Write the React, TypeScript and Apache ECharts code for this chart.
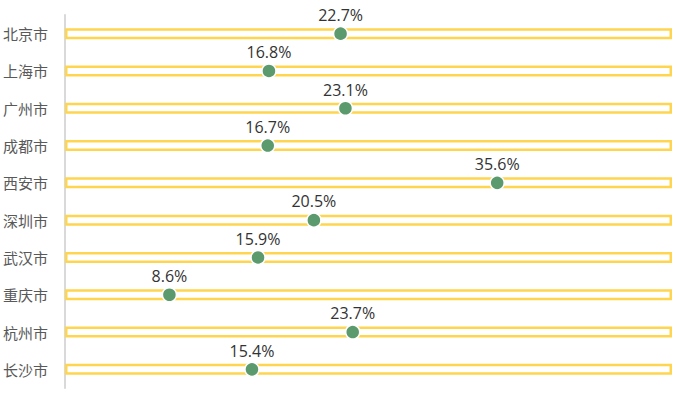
import React, { useEffect, useRef } from "react";
import * as echarts from "echarts";

const cities = ["北京市", "上海市", "广州市", "成都市", "西安市", "深圳市", "武汉市", "重庆市", "杭州市", "长沙市"];
const values = [22.7, 16.8, 23.1, 16.7, 35.6, 20.5, 15.9, 8.6, 23.7, 15.4];
const maxValue = 50;
const backValues = cities.map(() => maxValue);

export default function App() {
  const ref = useRef<HTMLDivElement>(null);
  useEffect(() => {
    const chart = echarts.init(ref.current!, null, { renderer: "svg" });
    chart.setOption({
      animation: false,
      grid: { left: 64, right: 12, top: 15, bottom: 8, containLabel: false },
      xAxis: { type: "value", min: 0, max: maxValue, show: false },
      yAxis: {
        type: "category",
        data: cities,
        inverse: true,
        axisLine: { show: true, lineStyle: { color: "#d9d9d9", width: 2 } },
        axisTick: { show: false },
        axisLabel: { color: "#595959", fontSize: 15, margin: 17, fontFamily: "Noto Sans CJK SC" },
      },
      series: [
        {
          type: "bar",
          data: backValues,
          barWidth: 11,
          silent: true,
          itemStyle: { color: "#fff", borderColor: "#FFD54F", borderWidth: 2.5 },
          z: 1,
        },
        {
          type: "scatter",
          data: values.map((v, i) => [v, cities[i]]),
          symbolSize: 14,
          itemStyle: { color: "#5B9A6C", opacity: 1, borderColor: "#fff", borderWidth: 1.5 },
          label: {
            show: true,
            position: "top",
            distance: 3,
            formatter: (p: any) => p.value[0] + "%",
            color: "#333",
            fontSize: 16,
            fontFamily: "Open Sans",
          },
          z: 3,
        },
      ],
    });
    return () => chart.dispose();
  }, []);
  return <div ref={ref} style={{ width: 684, height: 396, position: "absolute", left: 0, top: 0 }} />;
}
